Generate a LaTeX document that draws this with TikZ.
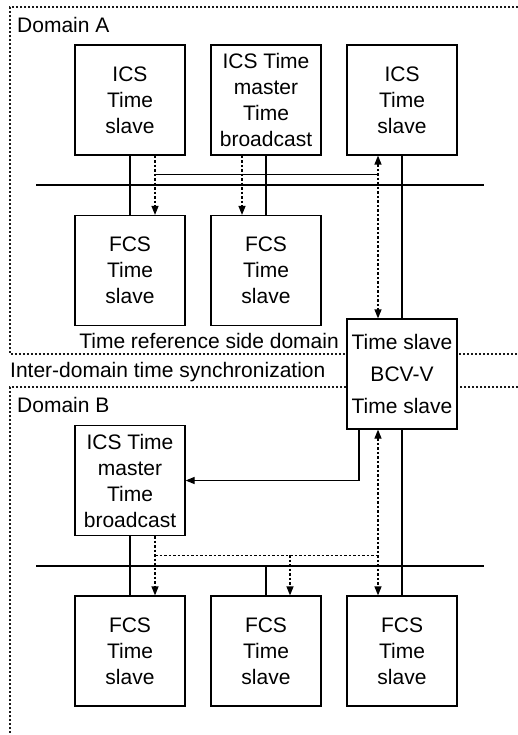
\documentclass[tikz,border=0pt]{standalone}
\usepackage{fontspec}
\setmainfont{Liberation Sans}
\usetikzlibrary{arrows.meta}

\begin{document}
\begin{tikzpicture}[x=1pt,y=-1pt,
  txt/.style={font=\fontsize{21}{26}\selectfont, inner sep=0pt},
  box/.style={draw, fill=white, line width=1.2pt, minimum width=110pt,
    minimum height=110pt, align=center, inner sep=0pt,
    font=\fontsize{21}{26}\selectfont},
  bcvbox/.style={box, font=\fontsize{21}{32}\selectfont},
  wire/.style={line width=1.2pt},
  sig/.style={line width=1.2pt, dash pattern=on 2.5pt off 2pt},
  tip/.style={-{Triangle[length=9pt,width=7pt]}},
  tips/.style={{Triangle[length=9pt,width=7pt]}-{Triangle[length=9pt,width=7pt]}},
  frame/.style={line width=1.1pt, dash pattern=on 2pt off 2pt, black!90}]

\useasboundingbox (0,0) rectangle (518,735);

% domain frames
\draw[frame] (518,7) -- (10,7) -- (10,354) -- (518,354);
\draw[frame] (518,387) -- (10,387) -- (10,735);

% labels
\node[txt, anchor=west] (lblA) at (17,25) {Domain A};
\node[txt, anchor=east] (lblref) at (339,341) {Time reference side domain};
\node[txt, anchor=west] (lblinter) at (10,372) {Inter-domain time synchronization};
\node[txt, anchor=west] (lblB) at (17,405) {Domain B};

% domain A
\node[box] (icsA1) at (130,100) {ICS\\Time\\slave};
\node[box] (icsAm) at (266,100) {ICS Time\\master\\Time\\broadcast};
\node[box] (icsA3) at (402,100) {ICS\\Time\\slave};
\node[box] (fcsA1) at (130,270.5) {FCS\\Time\\slave};
\node[box] (fcsA2) at (266,270.5) {FCS\\Time\\slave};

% gateway
\node[bcvbox] (bcv) at (402,374) {Time slave\\BCV-V\\Time slave};

% domain B
\node[box] (icsBm) at (130,480.5) {ICS Time\\master\\Time\\broadcast};
\node[box] (fcsB1) at (130,651) {FCS\\Time\\slave};
\node[box] (fcsB2) at (266,651) {FCS\\Time\\slave};
\node[box] (fcsB3) at (402,651) {FCS\\Time\\slave};

% bus A
\coordinate (busAL) at (36,185);
\coordinate (busAR) at (484,185);
\draw[wire] (busAL) -- (busAR);
\draw[wire] (icsA1.south) -- (fcsA1.north);
\draw[wire] (icsAm.south) -- (fcsA2.north);
\draw[wire] (icsA3.south) -- (bcv.north);
\coordinate (syncAL) at (155,175);
\coordinate (syncAR) at (378,175);
\draw[line width=1pt] (syncAL) -- (syncAR);
\draw[sig, tip] ([xshift=25pt]icsA1.south) -- ([xshift=25pt]fcsA1.north);
\draw[sig, tip] ([xshift=-24pt]icsAm.south) -- ([xshift=-24pt]fcsA2.north);
\draw[sig, tips] ([xshift=-24pt]icsA3.south) -- ([xshift=-24pt]bcv.north);

% bus B
\coordinate (busBL) at (36,566);
\coordinate (busBR) at (484,566);
\draw[wire] (busBL) -- (busBR);
\draw[wire, tip] ([xshift=-43pt]bcv.south) |- (icsBm.east);
\draw[wire] (bcv.south) -- (fcsB3.north);
\draw[sig, tips] ([xshift=-24pt]bcv.south) -- ([xshift=-24pt]fcsB3.north);
\draw[wire] (icsBm.south) -- (fcsB1.north);
\draw[wire] (fcsB2.north |- busBL) -- (fcsB2.north);
\coordinate (syncBL) at (155,555);
\coordinate (syncBR) at (378,555);
\draw[sig, line width=1pt] (syncBL) -- (syncBR);
\draw[sig, tip] ([xshift=25pt]icsBm.south) -- ([xshift=25pt]fcsB1.north);
\draw[sig, tip] ([xshift=24pt]fcsB2.north |- syncBL) -- ([xshift=24pt]fcsB2.north);
\end{tikzpicture}
\end{document}
